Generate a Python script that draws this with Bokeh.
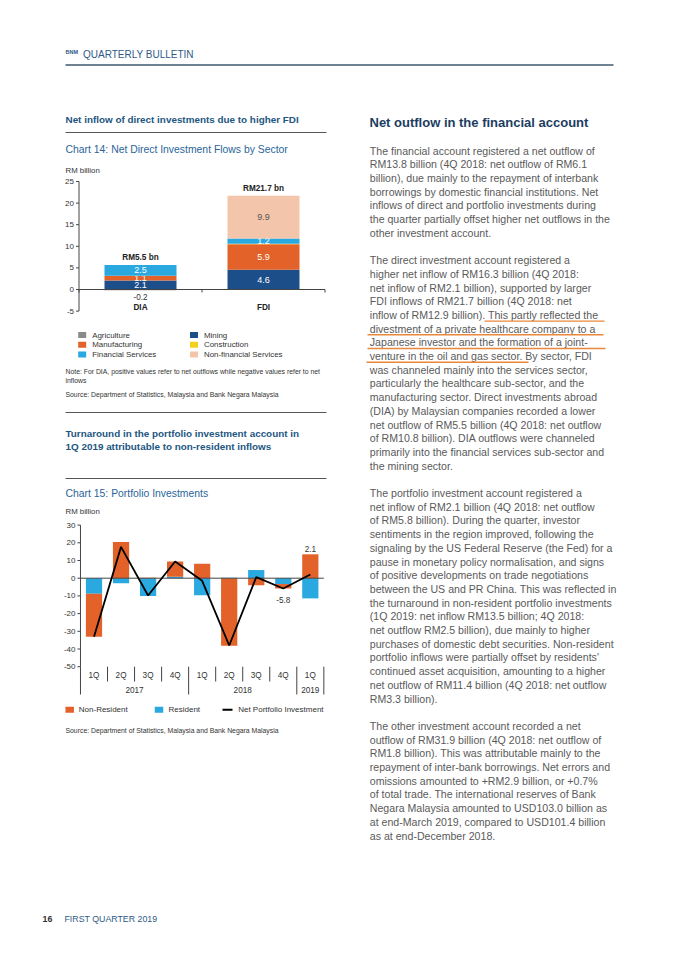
import numpy as np
from bokeh.plotting import figure
from bokeh.models import Range1d
from bokeh.core.properties import value
from bokeh.embed import file_html
from bokeh.resources import INLINE

# ------------------------------------------------------------------ data
c14_categories = ["DIA", "FDI"]
c14_sectors = ["Agriculture", "Mining", "Manufacturing", "Construction",
               "Financial Services", "Non-financial Services"]
c14_dia = [-0.2, 2.1, 1.1, 0.0, 2.5, 0.0]
c14_fdi = [0.0, 4.6, 5.9, 0.1, 1.2, 9.9]
c14_totals = [5.5, 21.7]
c14_ticks = [25, 20, 15, 10, 5, 0, -5]

c15_quarters = ["1Q", "2Q", "3Q", "4Q", "1Q", "2Q", "3Q", "4Q", "1Q"]
c15_years = ["2017", "2018", "2019"]
c15_year_first = [0, 4, 8]
c15_year_last = [3, 7, 8]
c15_nonresident = [-24.3, 20.5, 0.2, 8.6, 8.1, -38.2, -4.0, -2.5, 13.5]
c15_resident = [-8.8, -2.8, -10.0, 0.8, -9.6, 0.2, 4.6, -3.3, -11.4]
c15_net = [-33.1, 17.7, -9.8, 9.4, -1.5, -38.0, 0.6, -5.8, 2.1]
c15_labelled = [7, 8]
c15_ticks = [30, 20, 10, 0, -10, -20, -30, -40, -50]

body_lines = [
    "The financial account registered a net outflow of",
    "RM13.8 billion (4Q 2018: net outflow of RM6.1",
    "billion), due mainly to the repayment of interbank",
    "borrowings by domestic financial institutions. Net",
    "inflows of direct and portfolio investments during",
    "the quarter partially offset higher net outflows in the",
    "other investment account.",
    "",
    "The direct investment account registered a",
    "higher net inflow of RM16.3 billion (4Q 2018:",
    "net inflow of RM2.1 billion), supported by larger",
    "FDI inflows of RM21.7 billion (4Q 2018: net",
    "inflow of RM12.9 billion). This partly reflected the",
    "divestment of a private healthcare company to a",
    "Japanese investor and the formation of a joint-",
    "venture in the oil and gas sector. By sector, FDI",
    "was channeled mainly into the services sector,",
    "particularly the healthcare sub-sector, and the",
    "manufacturing sector. Direct investments abroad",
    "(DIA) by Malaysian companies recorded a lower",
    "net outflow of RM5.5 billion (4Q 2018: net outflow",
    "of RM10.8 billion). DIA outflows were channeled",
    "primarily into the financial services sub-sector and",
    "the mining sector.",
    "",
    "The portfolio investment account registered a",
    "net inflow of RM2.1 billion (4Q 2018: net outflow",
    "of RM5.8 billion). During the quarter, investor",
    "sentiments in the region improved, following the",
    "signaling by the US Federal Reserve (the Fed) for a",
    "pause in monetary policy normalisation, and signs",
    "of positive developments on trade negotiations",
    "between the US and PR China. This was reflected in",
    "the turnaround in non-resident portfolio investments",
    "(1Q 2019: net inflow RM13.5 billion; 4Q 2018:",
    "net outflow RM2.5 billion), due mainly to higher",
    "purchases of domestic debt securities. Non-resident",
    "portfolio inflows were partially offset by residents'",
    "continued asset acquisition, amounting to a higher",
    "net outflow of RM11.4 billion (4Q 2018: net outflow",
    "RM3.3 billion).",
    "",
    "The other investment account recorded a net",
    "outflow of RM31.9 billion (4Q 2018: net outflow of",
    "RM1.8 billion). This was attributable mainly to the",
    "repayment of inter-bank borrowings. Net errors and",
    "omissions amounted to +RM2.9 billion, or +0.7%",
    "of total trade. The international reserves of Bank",
    "Negara Malaysia amounted to USD103.0 billion as",
    "at end-March 2019, compared to USD101.4 billion",
    "as at end-December 2018.",
]

# ------------------------------------------------------------------ styles
FONT = value("Liberation Sans")
C14_COLORS = ["#8a8a8a", "#1c4e8a", "#e2622a", "#f2d01c", "#2aa8e0", "#f3c5aa"]
C14_LABEL_COLORS = ["#ffffff", "#ffffff", "#ffffff", "#ffffff", "#ffffff", "#555555"]
NR_COLOR, R_COLOR = "#e2622a", "#2aa8e0"
TITLE_BLUE = "#22567f"
CHART_BLUE = "#2a659a"
BODY_GREY = "#5a5a5a"
DARK = "#333333"

# page canvas in picture pixel coordinates
PX0, PX1, PY0, PY1 = 0, 663, 0, 944
p = figure(width=PX1 - PX0, height=PY1 - PY0,
           x_range=Range1d(PX0, PX1), y_range=Range1d(PY1, PY0),
           x_axis_type=None, y_axis_type=None, output_backend="svg",
           toolbar_location=None, min_border=0, outline_line_color=None)
p.background_fill_color = "white"
p.border_fill_color = "white"

# chart placement on the page (anchors in page pixels)
C14_ZERO_PX, C14_PPU, C14_X0_PX, C14_XSTEP = 289.0, 4.32, 140.0, 123.0
C15_ZERO_PX, C15_PPU, C15_X0_PX, C15_XSTEP = 577.7, 1.77, 93.5, 27.04


def yr(zero_px, ppu):
    return Range1d((zero_px - PY1) / ppu, (zero_px - PY0) / ppu)


def xr(x0_px, step):
    return Range1d((PX0 - x0_px) / step, (PX1 - x0_px) / step)


p.extra_y_ranges = {"c14": yr(C14_ZERO_PX, C14_PPU), "c15": yr(C15_ZERO_PX, C15_PPU)}
p.extra_x_ranges = {"c14": xr(C14_X0_PX, C14_XSTEP), "c15": xr(C15_X0_PX, C15_XSTEP)}


def txt(x, y, s, size, color=DARK, bold=False, align="left", **kw):
    xs = x if isinstance(x, (list, np.ndarray)) else [x]
    ys = y if isinstance(y, (list, np.ndarray)) else [y]
    ss = s if isinstance(s, list) else [s]
    p.text(x=xs, y=ys, text=ss, text_font=FONT, text_font_size=f"{size}px",
           text_color=color, text_font_style="bold" if bold else "normal",
           text_align=align, text_baseline="middle", **kw)


def hline(x0, x1, y, color="#555555", width=1.2):
    p.segment(x0=[x0], y0=[y], x1=[x1], y1=[y], line_color=color, line_width=width)


# ------------------------------------------------------------------ header / footer
txt(65, 51, "BNM", 5.5, color="#2d5a87", bold=True)
txt(82.5, 54, "QUARTERLY BULLETIN", 10, color="#2d5a87")
hline(65, 613, 64.5, color="#3d5a70", width=1.5)
txt(42, 918, "16", 8.8, color=DARK, bold=True)
txt(64, 918, "FIRST QUARTER 2019", 8.8, color="#2d5a87")

# ------------------------------------------------------------------ chart 14
txt(65, 119, "Net inflow of direct investments due to higher FDI", 9.9, color=TITLE_BLUE, bold=True)
hline(65, 326, 132)
txt(65, 149, "Chart 14: Net Direct Investment Flows by Sector", 10.4, color=CHART_BLUE)
txt(65, 170, "RM billion", 7.8, color=DARK)

c14 = dict(x_range_name="c14", y_range_name="c14")
xi = np.arange(len(c14_categories), dtype=float)
vals = np.array([c14_dia, c14_fdi])
pos_base = np.zeros(len(xi))
neg_base = np.zeros(len(xi))
for s in range(len(c14_sectors)):
    v = vals[:, s]
    bottom = np.where(v >= 0, pos_base, neg_base)
    top = bottom + v
    p.vbar(x=xi, bottom=bottom, top=top, width=72 / C14_XSTEP,
           fill_color=C14_COLORS[s], line_color=None, **c14)
    big = np.abs(v) >= 1
    if big.any():
        txt(list(xi[big]), list(((bottom + top) / 2)[big]),
            [f"{a:.1f}" for a in v[big]], 9, color=C14_LABEL_COLORS[s], align="center", **c14)
    neg = v < 0
    if neg.any():
        txt(list(xi[neg]), list(top[neg] - 6.5 / C14_PPU),
            [f"{a:.1f}" for a in v[neg]], 8.2, color=DARK, align="center", **c14)
    pos_base = np.where(v >= 0, top, pos_base)
    neg_base = np.where(v < 0, top, neg_base)

txt(list(xi), list(pos_base + 7.5 / C14_PPU), [f"RM{t} bn" for t in c14_totals],
    8.2, color="#222222", bold=True, align="center", **c14)
txt(list(xi), [-17.5 / C14_PPU] * len(xi), c14_categories, 8.2, color="#222222",
    bold=True, align="center", **c14)

# axes
p.segment(x0=[-0.5], y0=[min(c14_ticks)], x1=[-0.5], y1=[max(c14_ticks)],
          line_color="#444444", line_width=1, **c14)
p.segment(x0=[-0.5 - 3 / C14_XSTEP] * len(c14_ticks), y0=c14_ticks,
          x1=[-0.5] * len(c14_ticks), y1=c14_ticks, line_color="#444444", line_width=1, **c14)
txt([-0.5 - 5 / C14_XSTEP] * len(c14_ticks), c14_ticks, [str(t) for t in c14_ticks],
    8, color=DARK, align="right", **c14)
p.segment(x0=[-0.5], y0=[0], x1=[len(xi) - 0.5], y1=[0], line_color="#444444", line_width=1, **c14)
bnd = list(np.arange(len(xi) + 1) - 0.5)
p.segment(x0=bnd, y0=[0] * len(bnd), x1=bnd, y1=[-3 / C14_PPU] * len(bnd),
          line_color="#444444", line_width=1, **c14)

# legend chart 14 (two columns)
leg_order = [0, 2, 4, 1, 3, 5]
leg_x = [81.7, 81.7, 81.7, 193.5, 193.5, 193.5]
leg_y = [334.5, 344.2, 353.9, 334.5, 344.2, 353.9]
p.rect(x=leg_x, y=leg_y, width=8, height=6, fill_color=[C14_COLORS[i] for i in leg_order],
       line_color=None)
txt([x + 10 for x in leg_x], leg_y, [c14_sectors[i] for i in leg_order], 7.9, color=DARK)

txt(65, 371, "Note: For DIA, positive values refer to net outflows while negative values refer to net", 6.85, color=DARK)
txt(65, 379.5, "inflows", 6.85, color=DARK)
txt(65, 394, "Source: Department of Statistics, Malaysia and Bank Negara Malaysia", 6.85, color=DARK)
hline(65, 326, 412)

# ------------------------------------------------------------------ chart 15
txt(65, 433, "Turnaround in the portfolio investment account in", 9.9, color=TITLE_BLUE, bold=True)
txt(65, 446, "1Q 2019 attributable to non-resident inflows", 9.9, color=TITLE_BLUE, bold=True)
hline(65, 326, 478)
txt(65, 493, "Chart 15: Portfolio Investments", 10.4, color=CHART_BLUE)
txt(65, 511, "RM billion", 7.8, color=DARK)

c15 = dict(x_range_name="c15", y_range_name="c15")
qi = np.arange(len(c15_quarters), dtype=float)
res = np.array(c15_resident)
nr = np.array(c15_nonresident)
net = np.array(c15_net)
nr_bottom = np.where(np.sign(nr) == np.sign(res), res, 0.0)
p.vbar(x=qi, bottom=0, top=res, width=0.6, fill_color=R_COLOR, line_color=None, **c15)
p.vbar(x=qi, bottom=nr_bottom, top=nr_bottom + nr, width=0.6, fill_color=NR_COLOR, line_color=None, **c15)

# axes
p.segment(x0=[-0.5], y0=[min(c15_ticks)], x1=[-0.5], y1=[max(c15_ticks)],
          line_color="#444444", line_width=1, **c15)
p.segment(x0=[-0.5 - 3 / C15_XSTEP] * len(c15_ticks), y0=c15_ticks,
          x1=[-0.5] * len(c15_ticks), y1=c15_ticks, line_color="#444444", line_width=1, **c15)
txt([-0.5 - 5 / C15_XSTEP] * len(c15_ticks), c15_ticks, [str(t) for t in c15_ticks],
    8, color=DARK, align="right", **c15)
p.segment(x0=[-0.5], y0=[0], x1=[len(qi) - 0.5], y1=[0], line_color="#444444", line_width=1, **c15)

p.line(x=qi, y=net, line_color="black", line_width=1.8, **c15)

# net labels
ends = [max(0, nr_bottom[i] + nr[i], res[i]) if net[i] > 0 else min(0, nr_bottom[i] + nr[i], res[i])
        for i in c15_labelled]
lab_y = [e + (5 / C15_PPU if net[i] > 0 else -12 / C15_PPU) for e, i in zip(ends, c15_labelled)]
txt([qi[i] for i in c15_labelled], lab_y, [f"{net[i]:.1f}" for i in c15_labelled], 8.2,
    color=DARK, align="center", **c15)

# category axis: dividers below the plot
y_bottom_px = C15_ZERO_PX - C15_PPU * min(c15_ticks)
bounds = np.arange(len(qi) + 1) - 0.5
year_bounds = set([c15_year_first[0] - 0.5] + [l + 0.5 for l in c15_year_last])
for b in bounds:
    y_end = 694 if b in year_bounds else 681
    p.segment(x0=[b], y0=[y_bottom_px], x1=[b], y1=[y_end], line_color="#444444",
              line_width=1, x_range_name="c15")
txt(list(qi), [675] * len(qi), c15_quarters, 8.2, color=DARK, align="center", x_range_name="c15")
txt([(a + b) / 2 for a, b in zip(c15_year_first, c15_year_last)], [689] * len(c15_years),
    c15_years, 8.2, color=DARK, align="center", x_range_name="c15")

# legend chart 15
p.rect(x=[69.2, 158.5], y=[709.3, 709.3], width=8.5, height=6, fill_color=[NR_COLOR, R_COLOR],
       line_color=None)
p.segment(x0=[222], y0=[709.3], x1=[232], y1=[709.3], line_color="black", line_width=2)
txt([78.3, 168, 237.7], [709.3] * 3, ["Non-Resident", "Resident", "Net Portfolio Investment"],
    8, color=DARK)
txt(65, 729.5, "Source: Department of Statistics, Malaysia and Bank Negara Malaysia", 6.85, color=DARK)

# ------------------------------------------------------------------ right column
txt(369, 122, "Net outflow in the financial account", 13, color="#1c3d62", bold=True)
LINE0, STEP = 150.0, 13.7
ys = [LINE0 + STEP * k for k in range(len(body_lines))]
keep = [k for k, s in enumerate(body_lines) if s]
txt([369.3] * len(keep), [ys[k] for k in keep], [body_lines[k] for k in keep], 10.6, color=BODY_GREY)

# orange hand underline
ul_k = [12, 13, 14, 15]
ul_x0 = [484, 367, 367, 366]
ul_x1 = [604, 603, 605, 528]
p.segment(x0=ul_x0, y0=[ys[k] + 6.2 for k in ul_k], x1=ul_x1, y1=[ys[k] + 6.2 for k in ul_k],
          line_color="#e9883a", line_width=1.4)

open("out.html", "w").write(file_html(p, INLINE))
